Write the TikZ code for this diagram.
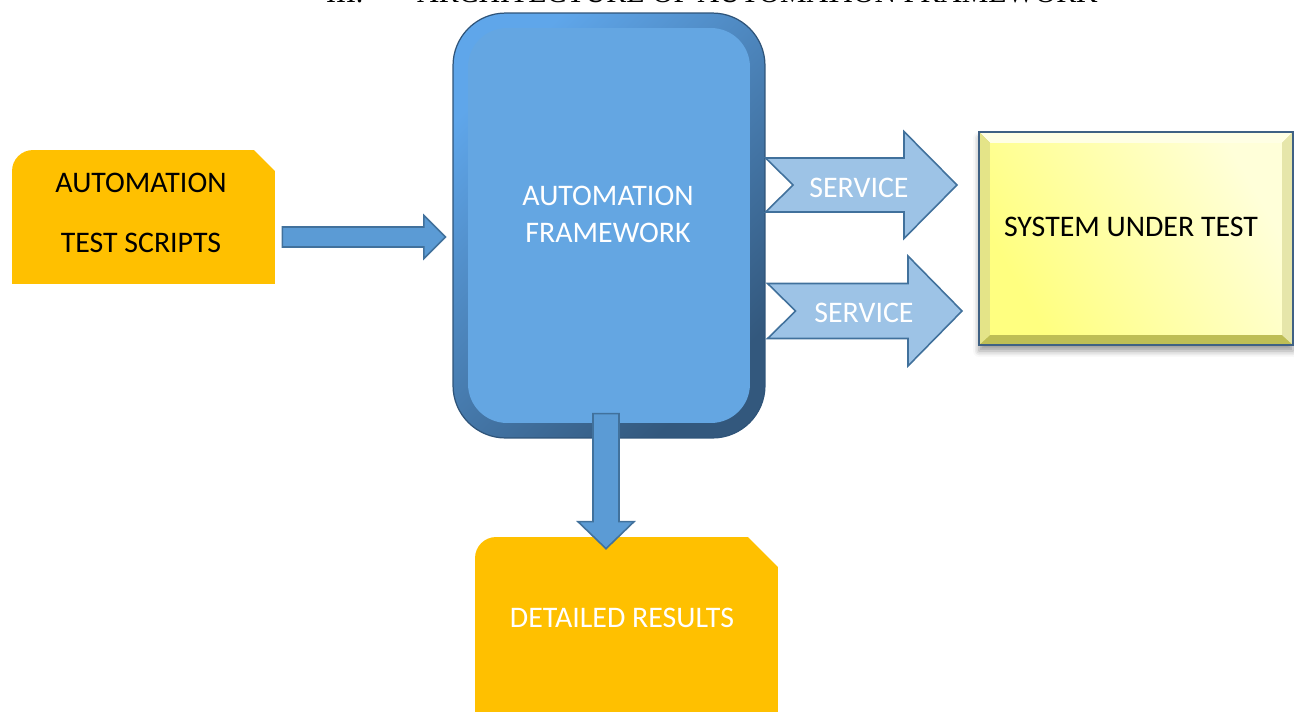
\documentclass[tikz,border=0pt]{standalone}
\usepackage{fontspec}
\setmainfont{Carlito}
\newfontfamily\titlefont{Liberation Serif}
\usetikzlibrary{calc,
        shadows,
        shadows.blur,
        positioning}

\definecolor{noteorange}{HTML}{FFC000}
\definecolor{fwface}{HTML}{64A6E2}
\definecolor{fwlight}{HTML}{5FA6EA}
\definecolor{fwdark}{HTML}{33587D}
\definecolor{fwline}{HTML}{2F5479}
\definecolor{arrowblue}{HTML}{5B9BD5}
\definecolor{arrowline}{HTML}{41719C}
\definecolor{servicefill}{HTML}{9DC3E6}
\definecolor{sutline}{HTML}{3F6184}
\definecolor{sutbottom}{HTML}{BEBE55}
\definecolor{sutleft}{HTML}{E4E488}
\definecolor{sutright}{HTML}{E6E6AA}
\definecolor{sutlight}{HTML}{FFFFE4}

\tikzset{
  note/.style={rectangle, inner sep=0pt, path picture={
      \fill[noteorange] (path picture bounding box.south west)
        -- ([yshift=-0.42cm]path picture bounding box.north west)
        arc[start angle=180, end angle=90, radius=0.42cm]
        -- ([xshift=-#1]path picture bounding box.north east)
        -- ([yshift=-#1]path picture bounding box.north east)
        -- (path picture bounding box.south east) -- cycle;}},
  % block arrow: shaft half width, head half width, head length, notch
  blockarrow/.style n args={4}{to path={
      let \p1=(\tikztostart), \p2=(\tikztotarget),
          \n1={atan2(\y2-\y1,\x2-\x1)} in
      ($(\p1)+(\n1+90:#1)$)
      -- ($(\p2)+(\n1+180:#3)+(\n1+90:#1)$)
      -- ($(\p2)+(\n1+180:#3)+(\n1+90:#2)$)
      -- (\p2)
      -- ($(\p2)+(\n1+180:#3)+(\n1-90:#2)$)
      -- ($(\p2)+(\n1+180:#3)+(\n1-90:#1)$)
      -- ($(\p1)+(\n1-90:#1)$)
      -- ($(\p1)+(\n1:#4)$) -- cycle}},
  label text/.style={inner sep=0pt, font=\fontsize{17}{21}\selectfont, align=center}
}

\begin{document}
\begin{tikzpicture}[x=0.02cm, y=-0.02cm]
    \useasboundingbox (0,0) rectangle (1294,711);
    \clip (0,0) rectangle (1294,711);

    % title, cut by the top edge
    \node [anchor=base, inner sep=0pt, font=\titlefont\fontsize{17}{20}\selectfont] (title) at (712,2.5)
        {III.\hspace{1.8em}ARCHITECTURE OF AUTOMATION FRAMEWORK};

    \node [note=0.42cm, minimum width=5.26cm, minimum height=2.68cm] (scripts) at (143.5,217) {};
    \node [label text] (scripts-text) at (141,213) {AUTOMATION\\[13pt]TEST SCRIPTS};

    \node [rectangle, rounded corners=1.05cm, minimum width=6.24cm, minimum height=8.5cm,
           draw=fwline, line width=0.7pt, top color=fwlight, bottom color=fwdark, shading angle=45,
           path picture={\fill[fwface, rounded corners=0.78cm]
               ([shift={(0.3cm,0.3cm)}]path picture bounding box.south west) rectangle
               ([shift={(-0.3cm,-0.3cm)}]path picture bounding box.north east);}]
           (fw) at (609,225.5) {};
    \node [label text, text=white] (fw-text) at (608,214) {AUTOMATION\\FRAMEWORK};

    \node [rectangle, minimum width=6.28cm, minimum height=4.26cm, draw=sutline, line width=1.2pt,
           fill=sutbottom, blur shadow={shadow xshift=0cm, shadow yshift=-0.12cm, shadow blur radius=0.12cm, shadow opacity=40},
           path picture={
               \coordinate (nw) at (path picture bounding box.north west);
               \coordinate (ne) at (path picture bounding box.north east);
               \coordinate (sw) at (path picture bounding box.south west);
               \coordinate (se) at (path picture bounding box.south east);
               \fill[sutlight] (nw) -- (ne) -- ([shift={(-0.22cm,-0.22cm)}]ne) -- ([shift={(0.22cm,-0.22cm)}]nw) -- cycle;
               \fill[sutleft] (nw) -- ([shift={(0.22cm,-0.22cm)}]nw) -- ([shift={(0.22cm,0.2cm)}]sw) -- (sw) -- cycle;
               \fill[sutright] (ne) -- ([shift={(-0.22cm,-0.22cm)}]ne) -- ([shift={(-0.22cm,0.2cm)}]se) -- (se) -- cycle;
               \shade[left color=yellow!50, right color=yellow!15, shading angle=120]
                   ([shift={(0.22cm,0.2cm)}]sw) rectangle ([shift={(-0.22cm,-0.22cm)}]ne);}]
           (sut) at (1136,238.5) {};
    \node [label text] (sut-text) at (1131,227) {SYSTEM UNDER TEST};

    \node [note=0.6cm, minimum width=6.06cm, minimum height=3.8cm] (results) at (626.5,632) {};
    \node [label text, text=white] (results-text) at (622,618) {DETAILED RESULTS};

    % free ends of the block arrows
    \coordinate (in-s) at ($(scripts.east)+(7,20)$);
    \coordinate (in-t) at ($(fw.west)+(-7,11.5)$);
    \coordinate (svc1-s) at ($(fw.east)+(0,-40.5)$);
    \coordinate (svc1-t) at ($(sut.west)+(-21,-53.5)$);
    \coordinate (svc2-s) at ($(fw.east)+(2,85.5)$);
    \coordinate (svc2-t) at ($(sut.west)+(-16,72.5)$);
    \coordinate (out-s) at ($(fw.south)+(-3,-25)$);
    \coordinate (out-t) at ($(results.north -| out-s)+(0,12)$);

    \draw [fill=arrowblue, draw=arrowline, line width=0.9pt, blockarrow={0.2cm}{0.43cm}{0.43cm}{0cm}] (in-s) to (in-t);
    \draw [fill=servicefill, draw=arrowline, line width=0.9pt, blockarrow={0.54cm}{1.07cm}{1.06cm}{0.55cm}] (svc1-s) to (svc1-t);
    \draw [fill=servicefill, draw=arrowline, line width=0.9pt, blockarrow={0.55cm}{1.1cm}{1.08cm}{0.56cm}] (svc2-s) to (svc2-t);
    \draw [fill=arrowblue, draw=arrowline, line width=0.9pt, blockarrow={0.26cm}{0.56cm}{0.54cm}{0cm}] (out-s) to (out-t);

    \node [label text, text=white] (svc1-text) at (859,188) {SERVICE};
    \node [label text, text=white] (svc2-text) at (864,313) {SERVICE};
\end{tikzpicture}
\end{document}
